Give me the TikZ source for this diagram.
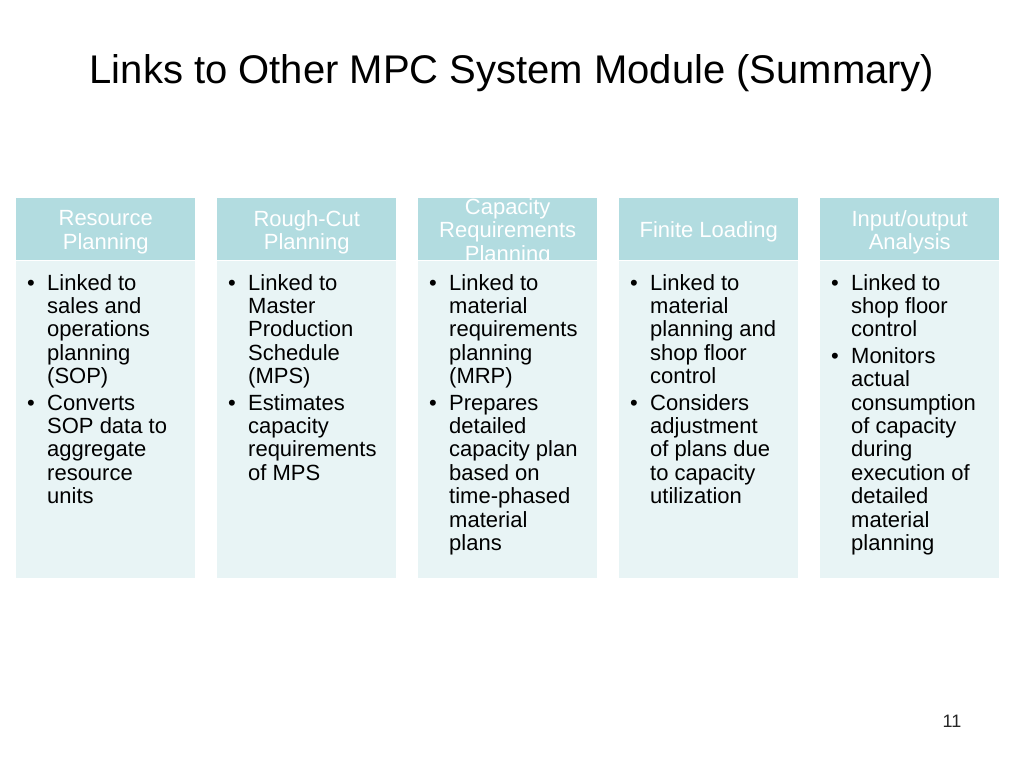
\documentclass[tikz,border=0pt]{standalone}
\usepackage{fontspec}
\setmainfont{Liberation Sans}
\definecolor{hdrc}{RGB}{178,220,224}
\definecolor{bodyc}{RGB}{232,244,245}
\newcommand{\bul}{\makebox[20pt][l]{\textbullet}}
\begin{document}
\begin{tikzpicture}[x=1pt,y=-1pt,
  hdr/.style={fill=hdrc, draw=none, minimum width=179pt, minimum height=62pt, inner sep=0pt, anchor=north west},
  bodybox/.style={fill=bodyc, draw=none, minimum width=179pt, minimum height=318pt, inner sep=0pt, anchor=north west},
  hdrtext/.style={text=white, font=\fontsize{22}{23.5}\selectfont, align=center, inner sep=0pt},
  bodytext/.style={anchor=north west, inner sep=0pt, font=\fontsize{22}{23.4}\selectfont, text=black}]
\useasboundingbox (0,0) rectangle (1024,768);
\fill[white] (0,0) rectangle (1024,768);

\node[anchor=base, font=\fontsize{40}{48}\selectfont] (title) at (512,83) {Links to Other MPC System Module (Summary)};

\foreach \i/\x in {1/16,2/217,3/418,4/619,5/820}{
  \node[bodybox] (b\i) at (\x,260) {};
  \node[hdr] (h\i) at (\x,198) {};
  \draw[white, line width=0.8pt] (\x,260.5) -- ++(179,0);
}

\node[hdrtext] (t1) at ([yshift=-3pt]h1.center) {Resource\\Planning};
\node[hdrtext] (t2) at ([yshift=-3pt]h2.center) {Rough-Cut\\Planning};
\begin{scope}
  \clip (418,198) rectangle (597,260);
  \node[hdrtext] (t3) at ([yshift=-3pt]h3.center) {Capacity\\Requirements\\Planning};
\end{scope}
\node[hdrtext] (t4) at ([yshift=-3pt]h4.center) {Finite Loading};
\node[hdrtext] (t5) at ([yshift=-3pt]h5.center) {Input/output\\Analysis};

\node[bodytext] (c1) at (27,273.6) {\begin{tabular}{@{}l@{}l@{}}
\bul & Linked to\\ & sales and\\ & operations\\ & planning\\ & (SOP)\\[3pt]
\bul & Converts\\ & SOP data to\\ & aggregate\\ & resource\\ & units
\end{tabular}};
\node[bodytext] (c2) at (228,273.6) {\begin{tabular}{@{}l@{}l@{}}
\bul & Linked to\\ & Master\\ & Production\\ & Schedule\\ & (MPS)\\[3pt]
\bul & Estimates\\ & capacity\\ & requirements\\ & of MPS
\end{tabular}};
\node[bodytext] (c3) at (429,273.6) {\begin{tabular}{@{}l@{}l@{}}
\bul & Linked to\\ & material\\ & requirements\\ & planning\\ & (MRP)\\[3pt]
\bul & Prepares\\ & detailed\\ & capacity plan\\ & based on\\ & time-phased\\ & material\\ & plans
\end{tabular}};
\node[bodytext] (c4) at (630,273.6) {\begin{tabular}{@{}l@{}l@{}}
\bul & Linked to\\ & material\\ & planning and\\ & shop floor\\ & control\\[3pt]
\bul & Considers\\ & adjustment\\ & of plans due\\ & to capacity\\ & utilization
\end{tabular}};
\node[bodytext] (c5) at (831,273.6) {\begin{tabular}{@{}l@{}l@{}}
\bul & Linked to\\ & shop floor\\ & control\\[3pt]
\bul & Monitors\\ & actual\\ & consumption\\ & of capacity\\ & during\\ & execution of\\ & detailed\\ & material\\ & planning
\end{tabular}};

\node[anchor=base, font=\fontsize{18}{21}\selectfont, text=black!85] (pg) at (952,727) {11};
\end{tikzpicture}
\end{document}
